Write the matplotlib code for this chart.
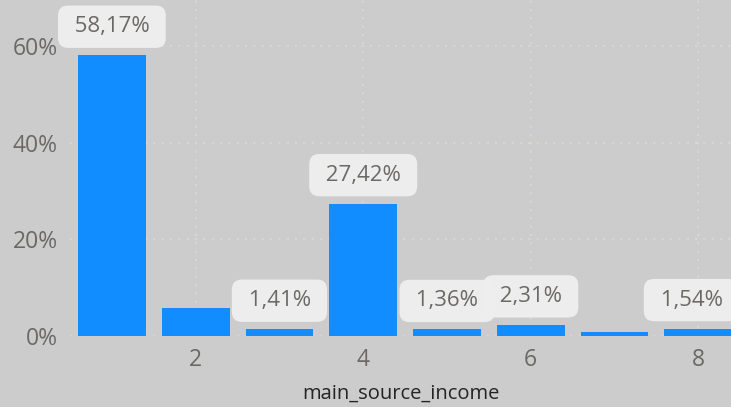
import matplotlib.pyplot as plt
from matplotlib.ticker import FuncFormatter

# data
categories = [1, 2, 3, 4, 5, 6, 7, 8]
shares = [58.17, 5.8, 1.41, 27.42, 1.36, 2.31, 0.85, 1.54]
show_label = [True, False, True, True, True, True, False, True]
xticks = [2, 4, 6, 8]
yticks = [0, 20, 40, 60]

bg = '#cccccc'
bar_color = '#118dff'
grid_color = '#dbd7cf'
tick_color = '#6b6966'

plt.rcParams['font.family'] = ['Open Sans', 'DejaVu Sans']

fig = plt.figure(figsize=(7.31, 4.07), dpi=100, facecolor=bg)
ax = fig.add_axes([70 / 731, 1 - 336 / 407, 661 / 731, 336 / 407])
ax.set_facecolor(bg)

ax.bar(categories, shares, width=0.81, color=bar_color, zorder=3)

for x, v, show in zip(categories, shares, show_label):
    if not show:
        continue
    txt = ' ' + ('%.2f%%' % v).replace('.', ',') + ' '
    # last label is nudged left to stay inside the canvas
    dx = -5 if x == categories[-1] else 0
    ax.annotate(txt, (x, v), xytext=(dx, 20.5), textcoords='offset points',
                ha='center', va='center', fontsize=16, color=tick_color,
                zorder=5,
                bbox=dict(boxstyle='round,pad=0.48,rounding_size=0.45',
                          fc='#efefef', ec='none', alpha=0.95))

ax.set_xlim(0.5, 8.39)
ax.set_ylim(0, 69.6)
ax.set_xticks(xticks)
ax.set_yticks(yticks)
ax.yaxis.set_major_formatter(FuncFormatter(lambda v, p: '%d%%' % v))
ax.tick_params(length=0, labelsize=16.5, labelcolor=tick_color)
ax.tick_params(axis='y', pad=9)
ax.tick_params(axis='x', pad=9)
ax.grid(True, color=grid_color, linestyle=(0, (1, 3)), lw=1.5, zorder=0)
for s in ax.spines.values():
    s.set_visible(False)

ax.set_xlabel('main_source_income', fontsize=14.5, color='#252423',
              labelpad=8)

plt.savefig('out.png', dpi=100, facecolor=bg)
